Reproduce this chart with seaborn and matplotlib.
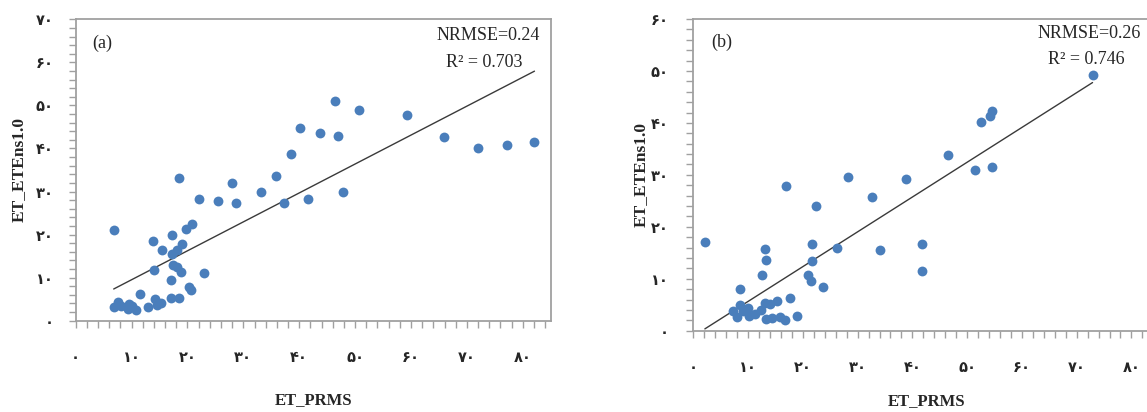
import matplotlib
matplotlib.use("Agg")
import matplotlib.pyplot as plt
from matplotlib.ticker import MultipleLocator, FixedLocator
import seaborn as sns
import pandas as pd


# DATA  ------------------------------------------------------------------------------------------------

# panel (a)
prms_a = [18.4, 27.9, 35.8, 22.0, 25.4, 28.6, 33.1, 37.3, 41.5, 6.8, 20.8, 19.8, 17.3, 13.9,
          19.0, 18.1, 15.4, 17.3, 17.5, 18.1, 14.1, 18.8, 23.0, 17.1, 20.3, 20.6, 11.5, 7.6,
          6.9, 8.1, 9.5, 9.4, 10.8, 12.9, 14.2, 14.5, 15.2, 17.0, 18.4, 10.0, 40.1, 38.6,
          46.4, 50.7, 59.2, 43.8, 46.9, 65.9, 72.0, 77.1, 82.1, 47.8]
ete_a = [33.1, 32.0, 33.6, 28.2, 27.9, 27.3, 29.8, 27.3, 28.3, 21.0, 22.5, 21.3, 19.8, 18.5,
         17.8, 16.4, 16.4, 15.5, 12.9, 12.5, 11.8, 11.2, 11.0, 9.4, 7.8, 7.1, 6.1, 4.4,
         3.1, 3.3, 3.9, 2.7, 2.6, 3.1, 5.0, 3.7, 4.1, 5.3, 5.2, 3.4, 44.8, 38.6,
         51.0, 48.9, 47.8, 43.6, 42.8, 42.7, 40.2, 40.9, 41.5, 29.8]

# panel (b)
prms_b = [72.9, 54.5, 54.1, 52.5, 46.5, 51.5, 54.5, 38.9, 28.3, 17.0, 32.6, 22.4, 2.1, 41.8,
          41.8, 13.0, 13.2, 21.6, 26.2, 34.1, 21.7, 12.5, 20.9, 21.4, 23.7, 8.6, 17.6, 15.3,
          13.0, 14.0, 8.6, 7.2, 7.9, 9.9, 10.1, 11.3, 12.3, 9.1, 13.2, 14.4, 15.8, 16.8, 18.9]
ete_b = [49.2, 42.2, 41.3, 40.2, 33.8, 30.9, 31.6, 29.2, 29.6, 27.9, 25.8, 24.0, 17.0, 16.7,
         11.5, 15.7, 13.7, 16.6, 15.9, 15.5, 13.5, 10.7, 10.7, 9.5, 8.4, 8.0, 6.3, 5.8,
         5.4, 5.1, 4.9, 3.8, 2.7, 4.3, 2.9, 3.3, 4.0, 3.7, 2.2, 2.4, 2.7, 2.1, 2.9]

panel_tags = ["(a)", "(b)"]
nrmse_text = ["NRMSE=0.24", "NRMSE=0.26"]
r2_text = ["R\u00b2 = 0.703", "R\u00b2 = 0.746"]

# persian digit tick labels
x_ticks = [0, 10, 20, 30, 40, 50, 60, 70, 80]
y_ticks_a = [0, 10, 20, 30, 40, 50, 60, 70]
y_ticks_b = [0, 10, 20, 30, 40, 50, 60]
PERSIAN = "۰۱۲۳۴۵۶۷۸۹"


def fa(n):
    return "".join(PERSIAN[int(c)] for c in str(n))


# STYLE  ------------------------------------------------------------------------------------------------

sns.set_style("white")
plt.rcParams["font.family"] = ["Liberation Serif", "DejaVu Sans"]

DOT = "#4a7ebb"
FRAME = "#a0a0a0"
SERIF = "Liberation Serif"

fig = plt.figure(figsize=(11.47, 4.12), dpi=100)
ax_a = fig.add_axes([0.066, 0.2216, 0.4141, 0.7316])
ax_b = fig.add_axes([0.6045, 0.1973, 0.4058, 0.7566])

panels = [
    (ax_a, prms_a, ete_a, 70, y_ticks_a, 11),
    (ax_b, prms_b, ete_b, 60, y_ticks_b, 13),
]
text_pos = [((0.055, 0.92), (0.868, 0.945), (0.860, 0.856)),
            ((0.060, 0.925), (0.850, 0.954), (0.844, 0.871))]
ylab_x = [-0.104, -0.096]
xlab_y = [-0.237, -0.200]

for i, (ax, xs, ys, ymax, yt, ypad) in enumerate(panels):
    df = pd.DataFrame({"ET_PRMS": xs, "ET_ETEns1.0": ys})
    sns.scatterplot(data=df, x="ET_PRMS", y="ET_ETEns1.0", ax=ax, color=DOT, s=50,
                    linewidth=0, zorder=3)
    sns.regplot(data=df, x="ET_PRMS", y="ET_ETEns1.0", ax=ax, scatter=False, ci=None,
                truncate=True, line_kws={"color": "#3a3a3a", "lw": 1.0, "zorder": 2})

    ax.set_xlim(0, 85)
    ax.set_ylim(0, ymax)
    ax.xaxis.set_major_locator(FixedLocator(x_ticks))
    ax.set_xticklabels([fa(t) for t in x_ticks], family="DejaVu Sans", fontsize=10.5,
                       fontweight="bold")
    ax.yaxis.set_major_locator(FixedLocator(yt))
    ax.set_yticklabels([fa(t) for t in yt], family="DejaVu Sans", fontsize=10.5,
                       fontweight="bold")
    ax.xaxis.set_minor_locator(MultipleLocator(2))
    ax.yaxis.set_minor_locator(MultipleLocator(2))
    ax.tick_params(axis="both", which="both", direction="out", length=5, width=1,
                   color=FRAME, bottom=True, left=True)
    ax.tick_params(axis="x", which="major", pad=16)
    ax.tick_params(axis="y", which="major", pad=ypad)

    for sp in ax.spines.values():
        sp.set_color(FRAME)
        sp.set_linewidth(1.3)

    ax.set_xlabel("ET_PRMS", fontsize=12, fontweight="bold", family=SERIF)
    ax.set_ylabel("ET_ETEns1.0", fontsize=12.5, fontweight="bold", family=SERIF)
    ax.xaxis.set_label_coords(0.5, xlab_y[i])
    ax.yaxis.set_label_coords(ylab_x[i], 0.5)

    tag, nr, r2 = text_pos[i]
    ax.text(*tag, panel_tags[i], transform=ax.transAxes, fontsize=13, family=SERIF,
            ha="center", va="center")
    ax.text(*nr, nrmse_text[i], transform=ax.transAxes, fontsize=13, family=SERIF,
            ha="center", va="center")
    ax.text(*r2, r2_text[i], transform=ax.transAxes, fontsize=13, family=SERIF,
            ha="center", va="center")

fig.savefig("out.png", dpi=100)
